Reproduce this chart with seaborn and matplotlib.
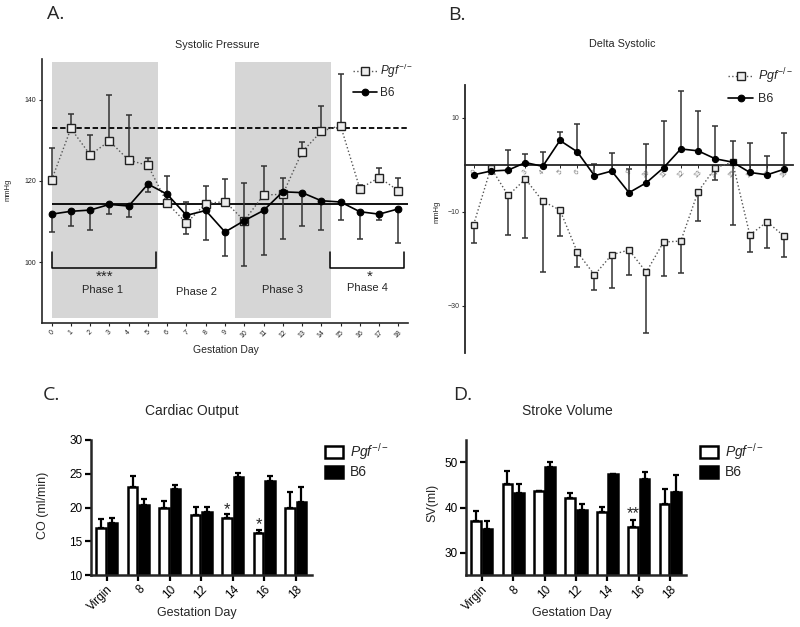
import numpy as np
import pandas as pd
import matplotlib
matplotlib.use("Agg")
import matplotlib.pyplot as plt
import seaborn as sns
from matplotlib.lines import Line2D
from matplotlib.patches import Patch

# ---------------- data ----------------
days = list(range(19))

# Panel A: systolic pressure (mmHg)
sys_pgf = [120.2, 132.9, 126.4, 129.8, 125.1, 123.8, 114.5, 109.6, 114.4, 114.9,
           110.2, 116.5, 116.7, 127.1, 132.2, 133.6, 118.1, 120.8, 117.6]
sys_pgf_err = [7.8, 3.5, 4.9, 11.3, 11.1, 1.9, 6.7, 5.3, 4.4, 5.5,
               9.3, 7.2, 3.9, 2.5, 6.2, 12.7, 1.0, 2.4, 3.0]
sys_b6 = [111.8, 112.5, 112.8, 114.2, 113.8, 119.2, 116.7, 111.5, 112.7, 107.4,
          110.2, 112.7, 117.3, 117.1, 115.1, 114.8, 112.4, 111.8, 113.1]
sys_b6_err = [4.3, 3.5, 4.9, 2.4, 2.8, 1.9, 3.1, 4.6, 7.2, 5.8,
              11.1, 10.9, 11.5, 8.1, 7.3, 4.5, 6.8, 1.4, 8.5]
ref_pgf = 133.0
ref_b6 = 114.2

# Panel B: delta systolic (mmHg)
d_b6 = [-2.1, -1.3, -1.1, 0.5, -0.3, 5.2, 2.8, -2.3, -1.3, -5.9,
        -3.8, -0.6, 3.4, 3.0, 1.3, 0.6, -1.6, -2.1, -0.9]
d_b6_err = [0.0, 0.0, 4.2, 1.9, 3.1, 1.8, 5.8, 2.5, 3.9, 5.1,
            8.3, 10.0, 12.3, 8.5, 6.9, 4.4, 6.3, 3.9, 7.7]
d_pgf = [-12.7, -0.6, -6.5, -3.0, -7.7, -9.6, -18.5, -23.4, -19.1, -18.1,
         -22.8, -16.4, -16.2, -5.7, -0.6, 0.6, -14.9, -12.1, -15.2]
d_pgf_err = [3.9, 0.0, 8.4, 12.6, 15.0, 5.6, 3.3, 3.1, 7.1, 5.4,
             12.9, 7.3, 6.8, 6.2, 2.7, 13.4, 3.7, 5.5, 4.4]

# Panels C, D
bar_days = ["Virgin", "8", "10", "12", "14", "16", "18"]
co_pgf = [17.0, 23.1, 19.95, 18.9, 18.4, 16.2, 20.0]
co_pgf_err = [1.3, 1.5, 0.95, 1.15, 0.6, 0.5, 2.3]
co_b6 = [17.7, 20.3, 22.7, 19.3, 24.5, 23.9, 20.8]
co_b6_err = [0.7, 0.9, 0.6, 0.75, 0.6, 0.7, 2.2]

sv_pgf = [37.0, 45.1, 43.6, 42.1, 39.0, 35.6, 40.8]
sv_pgf_err = [2.2, 2.9, 0.0, 1.1, 1.1, 1.7, 3.2]
sv_b6 = [35.2, 43.1, 48.9, 39.5, 47.4, 46.3, 43.4]
sv_b6_err = [1.9, 2.2, 1.1, 1.2, 0.0, 1.5, 3.9]

groups = ["Pgf", "B6"]
pgf_label = r"$\mathit{Pgf}^{-/-}$"

# ---------------- style ----------------
sns.set_style("ticks")
plt.rcParams["font.family"] = ["Liberation Sans", "DejaVu Sans"]
plt.rcParams["mathtext.fontset"] = "custom"
plt.rcParams["mathtext.it"] = "Liberation Sans:italic"
plt.rcParams["mathtext.rm"] = "Liberation Sans"
plt.rcParams["axes.unicode_minus"] = True

W, H = 800, 627
fig = plt.figure(figsize=(8, 6.27), dpi=100)


def fx(px):
    return px / W


def fy(py):
    return 1 - py / H


pgf_line = dict(color="#555555", linestyle=":", linewidth=1.0, marker="s",
                markerfacecolor="#ececec", markeredgecolor="#222222", markeredgewidth=1.0)
b6_line = dict(color="black", linestyle="-", linewidth=1.2, marker="o",
               markerfacecolor="black", markeredgecolor="black", markeredgewidth=0.8)
err_kw = dict(fmt="none", ecolor="#333333", elinewidth=1.1, capsize=2.5, capthick=1.1)

# ---------------- Panel A ----------------
axA = fig.add_axes([fx(42), fy(323), fx(366), 264 / H])
axA.set_xlim(-0.5, 18.5)
axA.set_ylim(85, 150)
for x0, x1 in [(0, 5.5), (9.5, 14.5)]:
    axA.fill_between([x0, x1], 86.3, 149.3, color="#d6d6d6", lw=0, zorder=0)
axA.hlines(ref_pgf, 0, 18.5, colors="black", linestyles=(0, (3, 1.5)), lw=1.3, zorder=1)
axA.hlines(ref_b6, 0, 18.5, colors="black", lw=1.3, zorder=1)
axA.errorbar(days, sys_pgf, yerr=[np.zeros(19), sys_pgf_err], zorder=2, **err_kw)
axA.errorbar(days, sys_b6, yerr=[sys_b6_err, np.zeros(19)], zorder=2, **err_kw)
dfA = pd.DataFrame({"day": days * 2, "val": sys_pgf + sys_b6,
                    "group": ["Pgf"] * 19 + ["B6"] * 19})
sns.lineplot(data=dfA[dfA.group == "Pgf"], x="day", y="val", ax=axA, markersize=5.2,
             zorder=3, **pgf_line)
sns.lineplot(data=dfA[dfA.group == "B6"], x="day", y="val", ax=axA, markersize=4.8,
             zorder=4, **b6_line)
# brackets
for x0, x1 in [(0, 5.4), (14.45, 18.3)]:
    axA.plot([x0, x0, x1, x1], [102.5, 98.5, 98.5, 102.5], color="black", lw=1.1,
             solid_joinstyle="round", zorder=2)
axA.text(2.75, 96.4, "***", ha="center", va="center", fontsize=11)
axA.text(16.5, 96.4, "*", ha="center", va="center", fontsize=11)
for xp, yp, t in [(2.66, 93.2, "Phase 1"), (7.5, 92.7, "Phase 2"),
                  (12.0, 93.1, "Phase 3"), (16.4, 93.5, "Phase 4")]:
    axA.text(xp, yp, t, ha="center", va="center", fontsize=8)
axA.set_xticks(days)
axA.set_xticklabels([str(d) for d in days], rotation=45, ha="center")
axA.set_yticks([100, 120, 140])
axA.tick_params(axis="both", labelsize=5, length=2.5, width=0.8, pad=1.5, colors="#222222")
axA.set_xlabel("")
axA.set_ylabel("")
sns.despine(ax=axA)
for s in ["left", "bottom"]:
    axA.spines[s].set_linewidth(1.2)
fig.text(fx(217), fy(45), "Systolic Pressure", ha="center", va="center", fontsize=7.8)
fig.text(fx(226), fy(350), "Gestation Day", ha="center", va="center", fontsize=7.5)
fig.text(fx(8), fy(190), "mmHg", ha="center", va="center", rotation=90, fontsize=5.5)
fig.legend(handles=[Line2D([0], [0], markersize=5.2, **pgf_line),
                    Line2D([0], [0], markersize=4.8, **b6_line)],
           labels=[pgf_label, "B6"], loc="upper left",
           bbox_to_anchor=(fx(353), fy(62)), frameon=False, fontsize=8.5,
           handlelength=2.0, handletextpad=0.3, labelspacing=0.6, borderpad=0,
           borderaxespad=0)

# ---------------- Panel B ----------------
axB = fig.add_axes([fx(465), fy(353), fx(328), 268 / H])
axB.set_xlim(-0.5, 18.5)
axB.set_ylim(-40, 17)
axB.errorbar(days, d_b6, yerr=[np.zeros(19), d_b6_err], zorder=2, **err_kw)
axB.errorbar(days, d_pgf, yerr=[d_pgf_err, np.zeros(19)], zorder=2, **err_kw)
dfB = pd.DataFrame({"day": days * 2, "val": d_pgf + d_b6,
                    "group": ["Pgf"] * 19 + ["B6"] * 19})
sns.lineplot(data=dfB[dfB.group == "Pgf"], x="day", y="val", ax=axB, markersize=4.4,
             zorder=3, **pgf_line)
sns.lineplot(data=dfB[dfB.group == "B6"], x="day", y="val", ax=axB, markersize=4.4,
             zorder=4, **b6_line)
axB.spines["bottom"].set_position(("data", 0))
axB.spines["top"].set_visible(False)
axB.spines["right"].set_visible(False)
for s in ["left", "bottom"]:
    axB.spines[s].set_linewidth(1.3)
axB.set_xticks(days)
axB.set_xticklabels([str(d) for d in days], rotation=45, ha="center")
axB.set_yticks([10, -10, -30])
axB.tick_params(axis="x", labelsize=5, length=2, width=0.7, pad=1, labelcolor="#777777")
axB.tick_params(axis="y", labelsize=5, length=2.5, width=0.8, pad=1.5, labelcolor="#333333")
axB.set_xlabel("")
axB.set_ylabel("")
fig.text(fx(622), fy(44), "Delta Systolic", ha="center", va="center", fontsize=7.8)
fig.text(fx(437), fy(212), "mmHg", ha="center", va="center", rotation=90, fontsize=5.5)
fig.legend(handles=[Line2D([0], [0], markersize=5.2, **pgf_line),
                    Line2D([0], [0], markersize=4.8, **b6_line)],
           labels=[pgf_label, "B6"], loc="upper left",
           bbox_to_anchor=(fx(728), fy(66)), frameon=False, fontsize=9,
           handlelength=2.0, handletextpad=0.4, labelspacing=0.6, borderpad=0,
           borderaxespad=0)


# ---------------- Panels C & D ----------------
def bar_panel(rect, pgf, pgf_err, b6, b6_err, ylim, yticks, ylabel, ylabel_xy,
              xlabel_xy, title, title_xy, legend_xy, stars):
    ax = fig.add_axes(rect)
    df = pd.DataFrame({"day": bar_days * 2, "val": pgf + b6,
                       "group": ["Pgf"] * 7 + ["B6"] * 7})
    sns.barplot(data=df, x="day", y="val", hue="group", order=bar_days,
                hue_order=groups, palette={"Pgf": "white", "B6": "black"},
                saturation=1, edgecolor="black", linewidth=1.8, width=0.72, gap=0.14,
                errorbar=None, legend=False, ax=ax, zorder=2)
    for k, (cont, vals, errs) in enumerate(zip(ax.containers, [pgf, b6], [pgf_err, b6_err])):
        xs = [p.get_x() + p.get_width() / 2 for p in cont.patches]
        ax.errorbar(xs, vals, yerr=[np.zeros(len(vals)), errs], fmt="none",
                    ecolor="black", elinewidth=1.6, capsize=2.3, capthick=1.6, zorder=1)
        if k == 0:
            for i, (sy, st) in stars.items():
                ax.text(xs[i], sy, st, ha="center", va="center", fontsize=12)
    ax.set_xlim(-0.5, 6.5)
    ax.set_ylim(*ylim)
    ax.set_yticks(yticks)
    ax.set_xticks(range(7))
    ax.set_xticklabels(bar_days, rotation=45, ha="right", rotation_mode="anchor")
    ax.tick_params(axis="both", labelsize=8.5, length=4, width=1.6, pad=2, colors="black")
    ax.set_xlabel("")
    ax.set_ylabel("")
    sns.despine(ax=ax)
    for s in ["left", "bottom"]:
        ax.spines[s].set_linewidth(1.8)
    fig.text(fx(title_xy[0]), fy(title_xy[1]), title, ha="center", va="center", fontsize=10)
    fig.text(fx(ylabel_xy[0]), fy(ylabel_xy[1]), ylabel, ha="center", va="center",
             rotation=90, fontsize=9)
    fig.text(fx(xlabel_xy[0]), fy(xlabel_xy[1]), "Gestation Day", ha="center",
             va="center", fontsize=9)
    fig.legend(handles=[Patch(facecolor="white", edgecolor="black", linewidth=1.8),
                        Patch(facecolor="black", edgecolor="black", linewidth=1.8)],
               labels=[pgf_label, "B6"], loc="upper left",
               bbox_to_anchor=(fx(legend_xy[0]), fy(legend_xy[1])), frameon=False,
               fontsize=10, handlelength=1.3, handleheight=0.95, handletextpad=0.5,
               labelspacing=0.25, borderpad=0, borderaxespad=0)
    return ax


axC = bar_panel([fx(91), fy(575), fx(220.5), 135 / H], co_pgf, co_pgf_err, co_b6,
                co_b6_err, (10, 30), [10, 15, 20, 25, 30], "CO (ml/min)", (43, 505),
                (197, 613), "Cardiac Output", (192, 411), (325, 441),
                {4: (19.7, "*"), 5: (17.5, "*")})
axD = bar_panel([fx(466), fy(575.3), fx(220), 135.6 / H], sv_pgf, sv_pgf_err, sv_b6,
                sv_b6_err, (25, 55), [30, 40, 50], "SV(ml)", (432, 503),
                (572, 613), "Stroke Volume", (567, 411), (700, 441),
                {5: (38.7, "**")})

# panel letters
for t, x, y in [("A.", 47, 14), ("B.", 448, 15), ("C.", 43, 395), ("D.", 453, 395)]:
    fig.text(fx(x), fy(y), t, ha="left", va="center", fontsize=14,
             family=["Open Sans", "DejaVu Sans"])

fig.savefig("out.png", dpi=100)
